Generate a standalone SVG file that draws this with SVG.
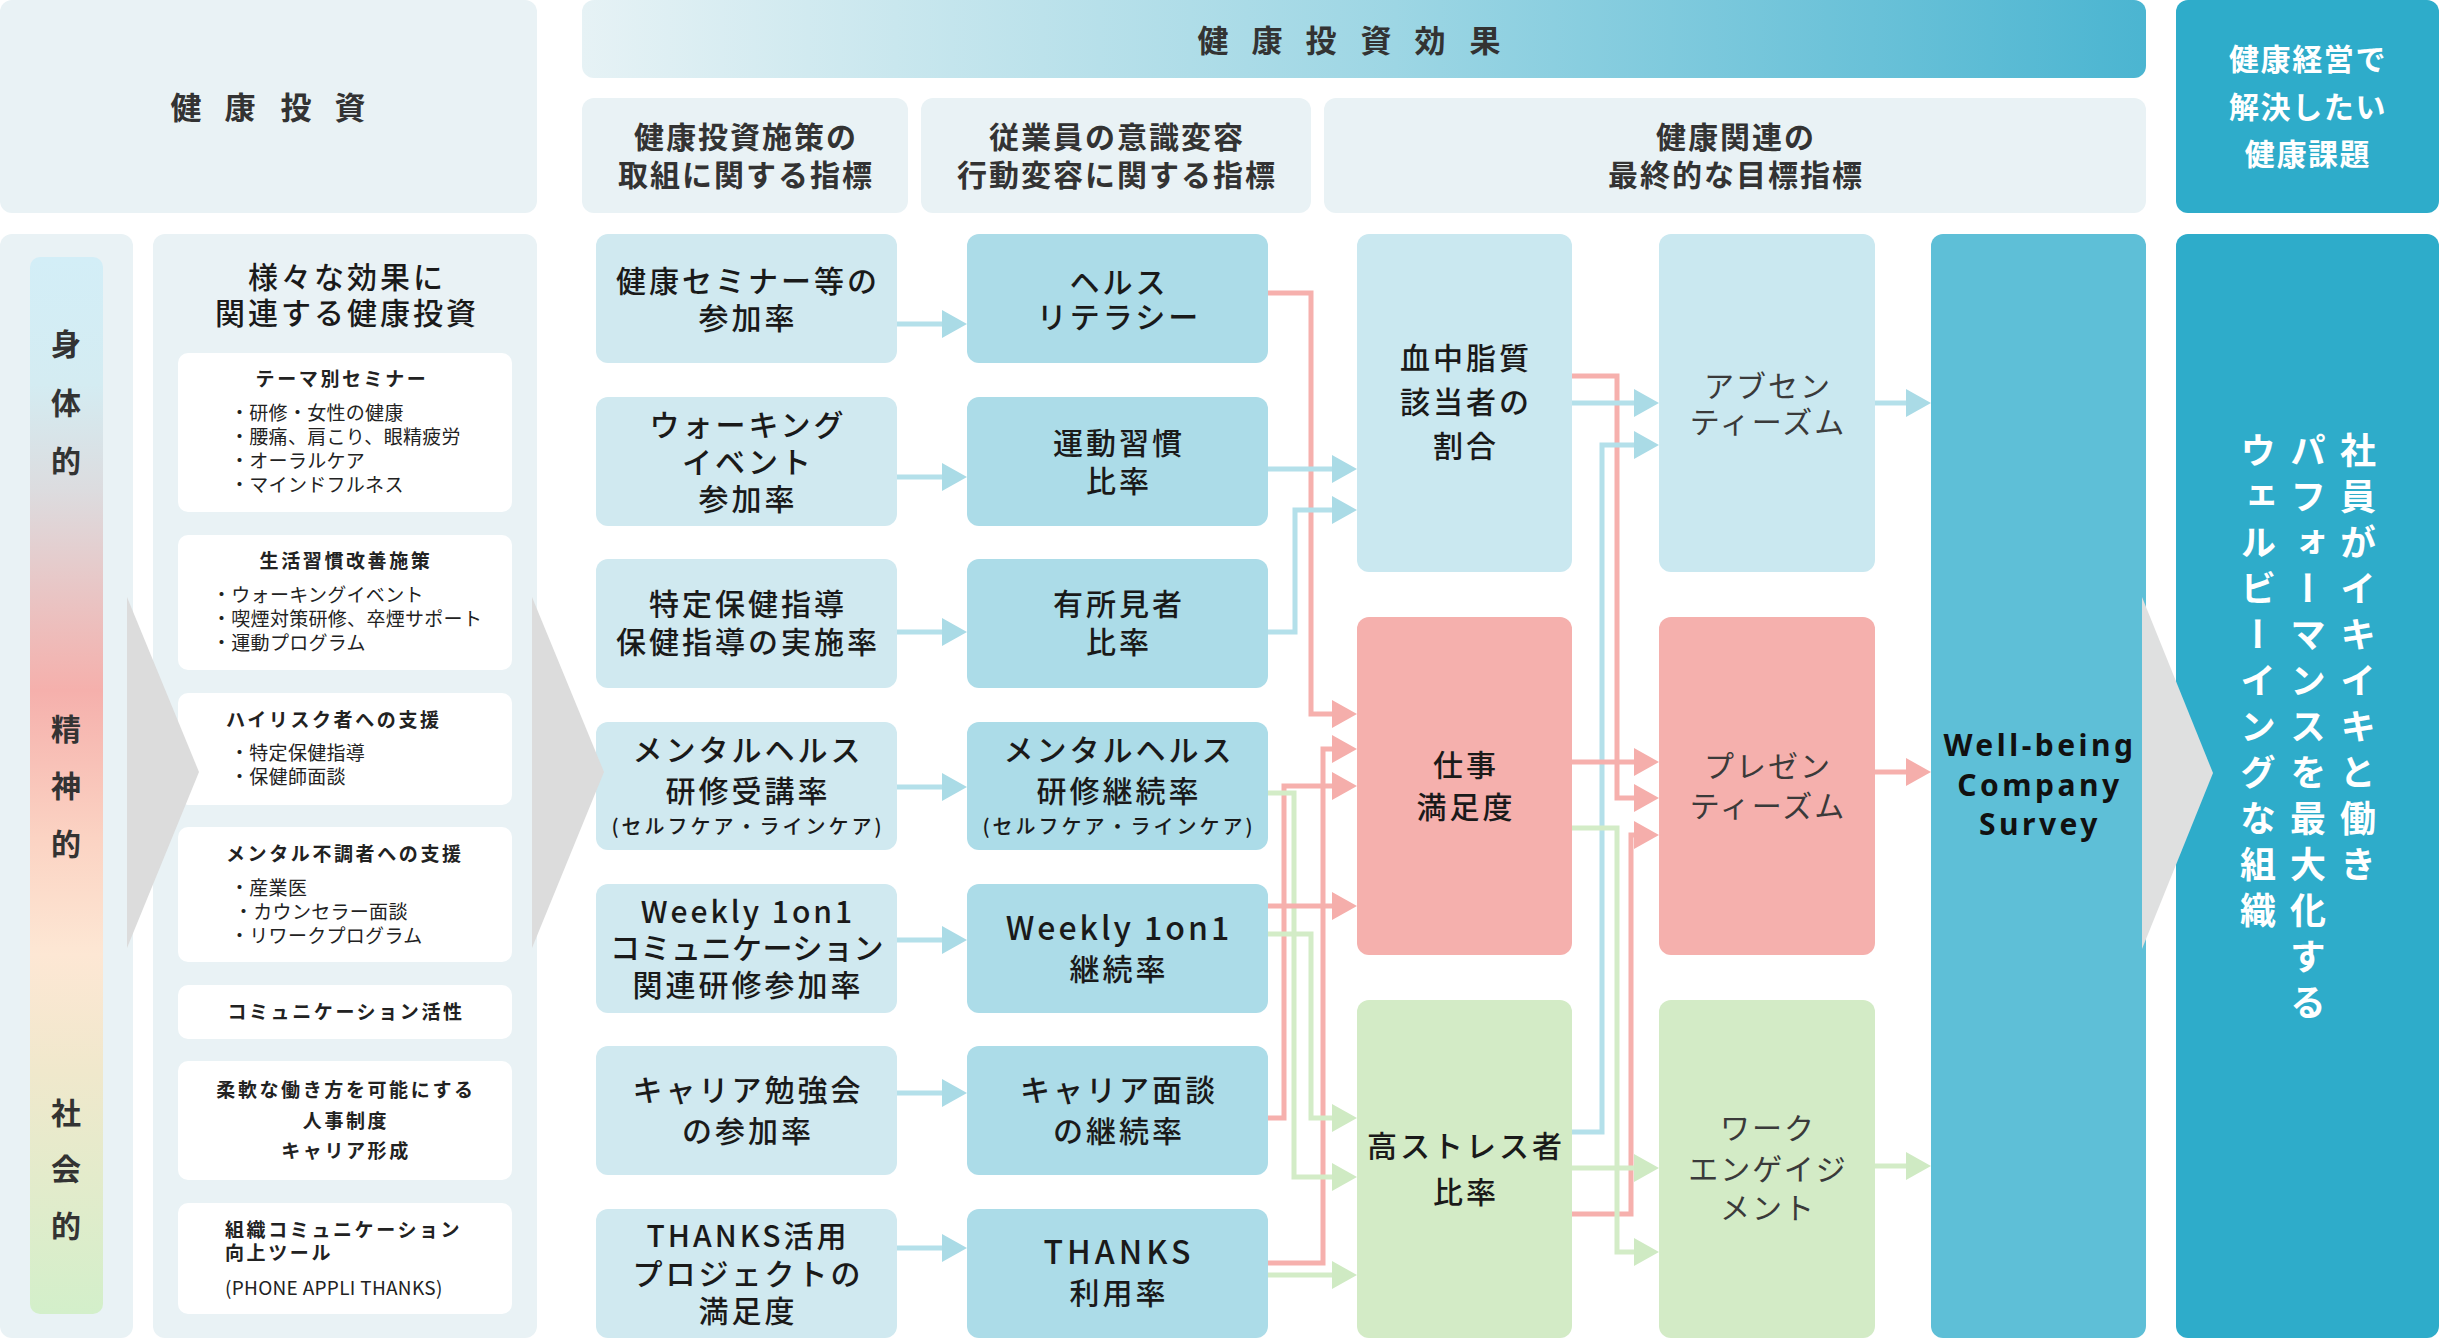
<svg xmlns="http://www.w3.org/2000/svg" width="2439" height="1338" viewBox="0 0 2439 1338">
<defs>
<linearGradient id="hdr" x1="0" y1="0" x2="1" y2="0">
<stop offset="0" stop-color="#e6f2f5"/>
<stop offset="0.2" stop-color="#c9e7ee"/>
<stop offset="0.52" stop-color="#9dd6e4"/>
<stop offset="1" stop-color="#4bb5d1"/>
</linearGradient>
<linearGradient id="bar" x1="0" y1="0" x2="0" y2="1">
<stop offset="0" stop-color="#d3eef7"/>
<stop offset="0.12" stop-color="#d4ecf2"/>
<stop offset="0.22" stop-color="#dcdcdf"/>
<stop offset="0.41" stop-color="#f5b0ac"/>
<stop offset="0.55" stop-color="#fbd3c3"/>
<stop offset="0.66" stop-color="#fde7d4"/>
<stop offset="0.77" stop-color="#f0e8cc"/>
<stop offset="1" stop-color="#d3efca"/>
</linearGradient>
<marker id="mb" markerUnits="userSpaceOnUse" markerWidth="25" markerHeight="28" refX="0" refY="14" orient="auto" viewBox="0 0 25 28"><path d="M0,0 L25,14 L0,28Z" fill="#aadbe6"/></marker>
<marker id="mp" markerUnits="userSpaceOnUse" markerWidth="25" markerHeight="28" refX="0" refY="14" orient="auto" viewBox="0 0 25 28"><path d="M0,0 L25,14 L0,28Z" fill="#f5aeab"/></marker>
<marker id="mg" markerUnits="userSpaceOnUse" markerWidth="25" markerHeight="28" refX="0" refY="14" orient="auto" viewBox="0 0 25 28"><path d="M0,0 L25,14 L0,28Z" fill="#cfeac3"/></marker>
<style>
text{font-family:"Noto Sans CJK JP","Noto Sans",sans-serif;fill:#222;dominant-baseline:central;transform:translateY(-3px)}
.pale{fill:#e9f2f5}
.c1{fill:#d0e9f0}
.c2{fill:#acdce8}
.cb{fill:#cae8f0}
.cp{fill:#f5b0ad}
.cg{fill:#d3ebc6}
.wb{fill:#5ebfd7}
.dk{fill:#2eacca}
.wh{fill:#ffffff}
.chev{fill:#dcdcdc}
.hd{font-size:31px;font-weight:700;fill:#333}
.sh{font-size:30px;font-weight:700;fill:#333;letter-spacing:2px;text-anchor:middle}
.wt{font-size:30px;font-weight:700;fill:#fff;letter-spacing:1.6px;text-anchor:middle}
.m{font-size:30px;font-weight:500;letter-spacing:3px;text-anchor:middle;fill:#1a1a1a}
.s{font-size:20px;font-weight:500;letter-spacing:3px;text-anchor:middle;fill:#1a1a1a}
.g{font-size:30px;font-weight:400;letter-spacing:2px;text-anchor:middle;fill:#3a3a3a}
.bt{font-size:19px;font-weight:700;letter-spacing:2.6px}
.it{font-size:19px;font-weight:400;letter-spacing:0.3px}
.vl{font-size:30px;font-weight:700;fill:#333;text-anchor:middle}
.vr{font-size:36px;font-weight:700;fill:#fff;writing-mode:vertical-rl;letter-spacing:10px;transform:none}
.wbt{font-family:"Noto Sans","Noto Sans CJK JP",sans-serif;font-size:30px;font-weight:700;letter-spacing:3.5px;text-anchor:middle;fill:#111}
.lb{fill:none;stroke:#b4e0ea;stroke-width:5}
.lp{fill:none;stroke:#f6b0ad;stroke-width:5}
.lg{fill:none;stroke:#d3ecc7;stroke-width:5}
</style>
</defs>

<g id="header-investment">
<rect class="pale" x="0" y="0" width="537" height="213" rx="12"/>
<text class="hd" x="186 240 296 350" y="108" text-anchor="middle">健康投資</text>
</g>
<g id="header-effect">
<rect fill="url(#hdr)" x="582" y="0" width="1564" height="78" rx="12"/>
<text class="hd" x="1213 1267 1321 1376 1430 1485" y="41" text-anchor="middle">健康投資効果</text>
</g>
<g id="sub1">
<rect class="pale" x="582" y="98" width="326" height="115" rx="12"/>
<text class="sh" x="746" y="138">健康投資施策の</text>
<text class="sh" x="746" y="176">取組に関する指標</text>
</g>
<g id="sub2">
<rect class="pale" x="921" y="98" width="390" height="115" rx="12"/>
<text class="sh" x="1117" y="138">従業員の意識変容</text>
<text class="sh" x="1117" y="176">行動変容に関する指標</text>
</g>
<g id="sub3">
<rect class="pale" x="1324" y="98" width="822" height="115" rx="12"/>
<text class="sh" x="1736" y="138">健康関連の</text>
<text class="sh" x="1736" y="176">最終的な目標指標</text>
</g>
<g id="header-issue">
<rect class="dk" x="2176" y="0" width="263" height="213" rx="12"/>
<text class="wt" x="2308" y="60">健康経営で</text>
<text class="wt" x="2308" y="108">解決したい</text>
<text class="wt" x="2308" y="155">健康課題</text>
</g>

<g id="category-bar">
<rect class="pale" x="0" y="234" width="133" height="1104" rx="12"/>
<rect fill="url(#bar)" x="30" y="257" width="73" height="1057" rx="10"/>
<text class="vl" x="66" y="345">身</text>
<text class="vl" x="66" y="404">体</text>
<text class="vl" x="66" y="462">的</text>
<text class="vl" x="66" y="730">精</text>
<text class="vl" x="66" y="787">神</text>
<text class="vl" x="66" y="845">的</text>
<text class="vl" x="66" y="1114">社</text>
<text class="vl" x="66" y="1170">会</text>
<text class="vl" x="66" y="1227">的</text>
</g>

<g id="measures">
<rect class="pale" x="153" y="234" width="384" height="1104" rx="12"/>
<text class="m" x="347" y="278">様々な効果に</text>
<text class="m" x="347" y="314">関連する健康投資</text>
<rect class="wh" x="178" y="353" width="334" height="159" rx="10"/>
<text class="bt" x="342" y="380" text-anchor="middle">テーマ別セミナー</text>
<text class="it" x="230" y="414">・研修・女性の健康</text>
<text class="it" x="230" y="438">・腰痛、肩こり、眼精疲労</text>
<text class="it" x="230" y="462">・オーラルケア</text>
<text class="it" x="230" y="486">・マインドフルネス</text>
<rect class="wh" x="178" y="535" width="334" height="135" rx="10"/>
<text class="bt" x="346" y="562" text-anchor="middle">生活習慣改善施策</text>
<text class="it" x="212" y="596">・ウォーキングイベント</text>
<text class="it" x="212" y="620">・喫煙対策研修、卒煙サポート</text>
<text class="it" x="212" y="644">・運動プログラム</text>
<rect class="wh" x="178" y="693" width="334" height="112" rx="10"/>
<text class="bt" x="226" y="721">ハイリスク者への支援</text>
<text class="it" x="230" y="754">・特定保健指導</text>
<text class="it" x="230" y="778">・保健師面談</text>
<rect class="wh" x="178" y="827" width="334" height="135" rx="10"/>
<text class="bt" x="226" y="855">メンタル不調者への支援</text>
<text class="it" x="230" y="889">・産業医</text>
<text class="it" x="234" y="913">・カウンセラー面談</text>
<text class="it" x="230" y="937">・リワークプログラム</text>
<rect class="wh" x="178" y="985" width="334" height="54" rx="10"/>
<text class="bt" x="346" y="1013" text-anchor="middle">コミュニケーション活性</text>
<rect class="wh" x="178" y="1061" width="334" height="119" rx="10"/>
<text class="bt" x="346" y="1091" text-anchor="middle">柔軟な働き方を可能にする</text>
<text class="bt" x="346" y="1122" text-anchor="middle">人事制度</text>
<text class="bt" x="346" y="1152" text-anchor="middle">キャリア形成</text>
<rect class="wh" x="178" y="1203" width="334" height="111" rx="10"/>
<text class="bt" x="225" y="1231">組織コミュニケーション</text>
<text class="bt" x="225" y="1254">向上ツール</text>
<text class="it" x="225" y="1289">(PHONE APPLI THANKS)</text>
</g>

<g id="a1">
<rect class="c1" x="596" y="234" width="301" height="129" rx="12"/>
<text class="m" x="748" y="282">健康セミナー等の</text>
<text class="m" x="748" y="319">参加率</text>
</g>
<g id="a2">
<rect class="c1" x="596" y="397" width="301" height="129" rx="12"/>
<text class="m" x="748" y="426">ウォーキング</text>
<text class="m" x="748" y="463">イベント</text>
<text class="m" x="748" y="500">参加率</text>
</g>
<g id="a3">
<rect class="c1" x="596" y="559" width="301" height="129" rx="12"/>
<text class="m" x="748" y="605">特定保健指導</text>
<text class="m" x="748" y="643">保健指導の実施率</text>
</g>
<g id="a4">
<rect class="c1" x="596" y="722" width="301" height="128" rx="12"/>
<text class="m" x="748" y="751">メンタルヘルス</text>
<text class="m" x="748" y="792">研修受講率</text>
<text class="s" x="748" y="828">(セルフケア・ラインケア)</text>
</g>
<g id="a5">
<rect class="c1" x="596" y="884" width="301" height="129" rx="12"/>
<text class="m" x="748" y="913">Weekly 1on1</text>
<text class="m" x="747" y="949" style="letter-spacing:0.5px">コミュニケーション</text>
<text class="m" x="748" y="986">関連研修参加率</text>
</g>
<g id="a6">
<rect class="c1" x="596" y="1046" width="301" height="129" rx="12"/>
<text class="m" x="748" y="1091">キャリア勉強会</text>
<text class="m" x="748" y="1132">の参加率</text>
</g>
<g id="a7">
<rect class="c1" x="596" y="1209" width="301" height="129" rx="12"/>
<text class="m" x="748" y="1237">THANKS活用</text>
<text class="m" x="748" y="1275">プロジェクトの</text>
<text class="m" x="748" y="1312">満足度</text>
</g>

<g id="b1">
<rect class="c2" x="967" y="234" width="301" height="129" rx="12"/>
<text class="m" x="1119" y="283">ヘルス</text>
<text class="m" x="1119" y="318">リテラシー</text>
</g>
<g id="b2">
<rect class="c2" x="967" y="397" width="301" height="129" rx="12"/>
<text class="m" x="1119" y="444">運動習慣</text>
<text class="m" x="1119" y="482">比率</text>
</g>
<g id="b3">
<rect class="c2" x="967" y="559" width="301" height="129" rx="12"/>
<text class="m" x="1119" y="605">有所見者</text>
<text class="m" x="1119" y="643">比率</text>
</g>
<g id="b4">
<rect class="c2" x="967" y="722" width="301" height="128" rx="12"/>
<text class="m" x="1119" y="751">メンタルヘルス</text>
<text class="m" x="1119" y="792">研修継続率</text>
<text class="s" x="1119" y="828">(セルフケア・ラインケア)</text>
</g>
<g id="b5">
<rect class="c2" x="967" y="884" width="301" height="129" rx="12"/>
<text class="m" x="1119" y="929" style="font-size:32px">Weekly 1on1</text>
<text class="m" x="1119" y="970">継続率</text>
</g>
<g id="b6">
<rect class="c2" x="967" y="1046" width="301" height="129" rx="12"/>
<text class="m" x="1119" y="1091">キャリア面談</text>
<text class="m" x="1119" y="1132">の継続率</text>
</g>
<g id="b7">
<rect class="c2" x="967" y="1209" width="301" height="129" rx="12"/>
<text class="m" x="1119" y="1253" style="font-size:32px;letter-spacing:4px">THANKS</text>
<text class="m" x="1119" y="1294">利用率</text>
</g>

<g id="c1">
<rect class="cb" x="1357" y="234" width="215" height="338" rx="12"/>
<text class="m" x="1466" y="359">血中脂質</text>
<text class="m" x="1466" y="403">該当者の</text>
<text class="m" x="1466" y="447">割合</text>
</g>
<g id="c2">
<rect class="cp" x="1357" y="617" width="215" height="338" rx="12"/>
<text class="m" x="1466" y="766">仕事</text>
<text class="m" x="1466" y="808">満足度</text>
</g>
<g id="c3">
<rect class="cg" x="1357" y="1000" width="215" height="338" rx="12"/>
<text class="m" x="1466" y="1147">高ストレス者</text>
<text class="m" x="1466" y="1193">比率</text>
</g>
<g id="d1">
<rect class="cb" x="1659" y="234" width="216" height="338" rx="12"/>
<text class="g" x="1768" y="387">アブセン</text>
<text class="g" x="1768" y="423">ティーズム</text>
</g>
<g id="d2">
<rect class="cp" x="1659" y="617" width="216" height="338" rx="12"/>
<text class="g" x="1768" y="767">プレゼン</text>
<text class="g" x="1768" y="807">ティーズム</text>
</g>
<g id="d3">
<rect class="cg" x="1659" y="1000" width="216" height="338" rx="12"/>
<text class="g" x="1768" y="1129">ワーク</text>
<text class="g" x="1768" y="1170">エンゲイジ</text>
<text class="g" x="1768" y="1209">メント</text>
</g>
<g id="wellbeing">
<rect class="wb" x="1931" y="234" width="215" height="1104" rx="12"/>
<text class="wbt" x="2040" y="747">Well-being</text>
<text class="wbt" x="2040" y="787">Company</text>
<text class="wbt" x="2040" y="826">Survey</text>
</g>
<g id="goal">
<rect class="dk" x="2176" y="234" width="263" height="1104" rx="12"/>
<text class="vr" x="2358" y="432">社員がイキイキと働き</text>
<text class="vr" x="2308" y="432">パフォーマンスを最大化する</text>
<text class="vr" x="2258" y="432">ウェルビーイングな組織</text>
</g>

<g id="chevrons">
<polygon class="chev" points="127,597 199,772 127,948"/>
<polygon class="chev" points="532,597 604,772 532,948"/>
<polygon class="chev" points="2142,597 2213,773 2142,949" style="fill:#dfe0e0"/>
</g>

<g id="connectors">
<path class="lb" marker-end="url(#mb)" d="M897,324 H942"/>
<path class="lb" marker-end="url(#mb)" d="M897,477 H942"/>
<path class="lb" marker-end="url(#mb)" d="M897,632 H942"/>
<path class="lb" marker-end="url(#mb)" d="M897,787 H942"/>
<path class="lb" marker-end="url(#mb)" d="M897,940 H942"/>
<path class="lb" marker-end="url(#mb)" d="M897,1093 H942"/>
<path class="lb" marker-end="url(#mb)" d="M897,1248 H942"/>

<path class="lp" marker-end="url(#mp)" d="M1268,293 H1311 V714 H1332"/>
<path class="lb" marker-end="url(#mb)" d="M1268,469 H1332"/>
<path class="lb" marker-end="url(#mb)" d="M1268,632 H1295 V510 H1332"/>
<path class="lp" marker-end="url(#mp)" d="M1268,1263 H1323 V749 H1332"/>
<path class="lp" marker-end="url(#mp)" d="M1268,1118 H1284 V786 H1332"/>
<path class="lg" marker-end="url(#mg)" d="M1268,793 H1294 V1177 H1332"/>
<path class="lp" marker-end="url(#mp)" d="M1268,906 H1332"/>
<path class="lg" marker-end="url(#mg)" d="M1268,934 H1311 V1118 H1332"/>
<path class="lg" marker-end="url(#mg)" d="M1268,1275 H1332"/>

<path class="lp" marker-end="url(#mp)" d="M1572,376 H1617 V798 H1634"/>
<path class="lb" marker-end="url(#mb)" d="M1572,403 H1634"/>
<path class="lb" marker-end="url(#mb)" d="M1572,1132 H1602 V445 H1634"/>
<path class="lp" marker-end="url(#mp)" d="M1572,762 H1634"/>
<path class="lp" marker-end="url(#mp)" d="M1572,1214 H1631 V835 H1634"/>
<path class="lg" marker-end="url(#mg)" d="M1572,828 H1617 V1252 H1634"/>
<path class="lg" marker-end="url(#mg)" d="M1572,1168 H1634"/>

<path class="lb" marker-end="url(#mb)" d="M1875,403 H1906"/>
<path class="lp" marker-end="url(#mp)" d="M1875,772 H1906"/>
<path class="lg" marker-end="url(#mg)" d="M1875,1166 H1906"/>
</g>
</svg>
